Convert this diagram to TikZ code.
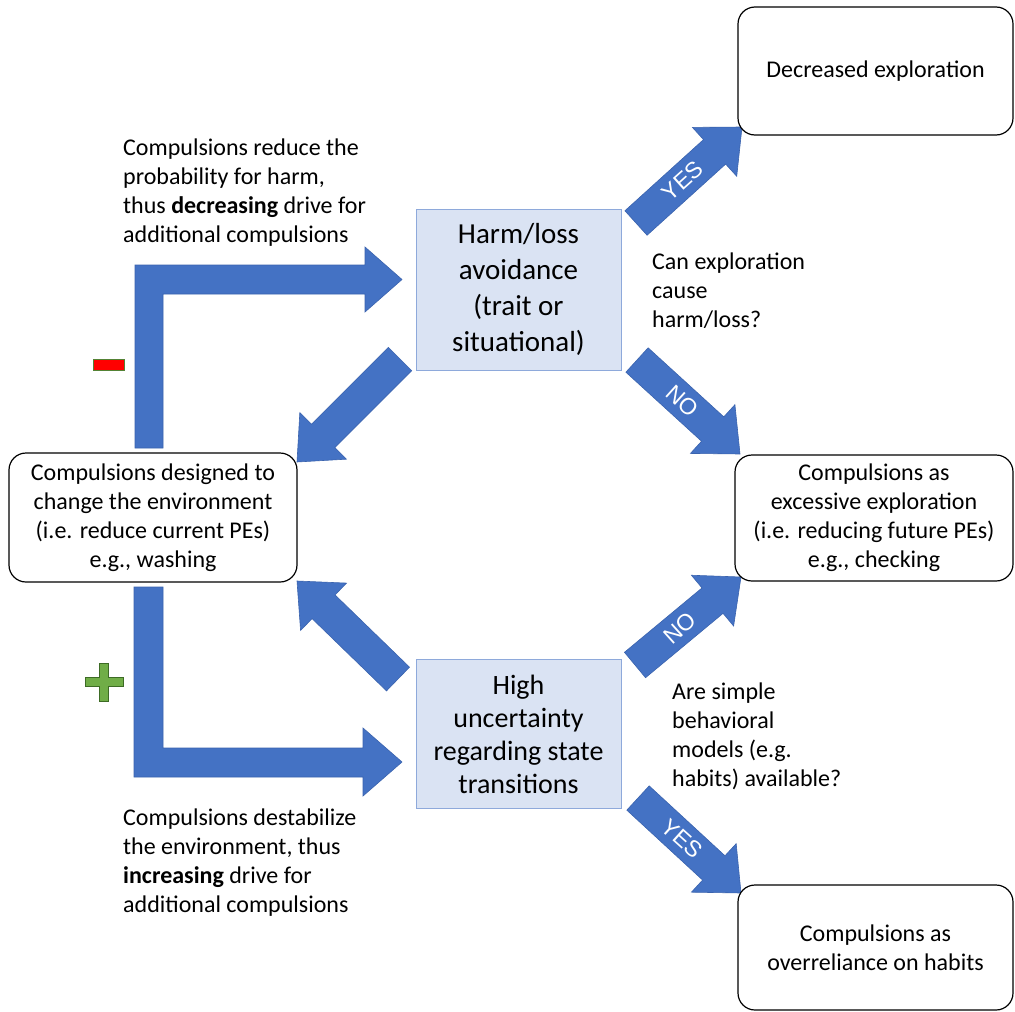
\documentclass[tikz,border=0pt]{standalone}
\usepackage{fontspec}
\setmainfont{Carlito}
\newfontfamily\labelfont{Liberation Sans}
\usetikzlibrary{calc}
\definecolor{arrowblue}{HTML}{4472C4}
\definecolor{arrowedge}{HTML}{3A63AE}
\definecolor{boxfill}{HTML}{DAE3F3}
\definecolor{boxedge}{HTML}{8EA9DB}
\definecolor{minusred}{HTML}{FF0000}
\definecolor{minusedge}{HTML}{548235}
\definecolor{plusgreen}{HTML}{70AD47}
\definecolor{plusedge}{HTML}{3D6B25}
\newcommand{\blockarrow}[2]{%
  \path ($(#2)!37pt!(#1)$) coordinate (hb);
  \filldraw[arrowbody] ($(#1)!16.5pt!90:(#2)$) -- ($(hb)!16.5pt!90:(#2)$) -- ($(hb)!33pt!90:(#2)$) -- (#2)
    -- ($(hb)!33pt!-90:(#2)$) -- ($(hb)!16.5pt!-90:(#2)$) -- ($(#1)!16.5pt!-90:(#2)$) -- cycle;
}
\begin{document}
\begin{tikzpicture}[x=1pt,y=-1pt,
  txt/.style={font=\fontsize{24}{29}\selectfont, inner sep=0pt, text=black},
  roundbox/.style={txt, draw=black, fill=white, line width=1.2pt, rounded corners=17pt, align=center},
  bluebox/.style={draw=boxedge, fill=boxfill, line width=0.9pt, inner sep=0pt, align=center, text=black},
  arrowbody/.style={fill=arrowblue, draw=arrowedge, line width=0.6pt},
  arrowlabel/.style={text=white, font=\labelfont\fontsize{23}{26}\selectfont, inner sep=0pt}]
\useasboundingbox (0,0) rectangle (1015,1012);
\fill[white] (0,0) rectangle (1015,1012);

% L-shaped arrows
\filldraw[arrowbody] (135,448) -- (135,265) -- (365,265) -- (365,247) -- (402,279.5) -- (365,312) -- (365,294) -- (163,294) -- (163,448) -- cycle;
\filldraw[arrowbody] (134,587) -- (134,777) -- (363,777) -- (363,796) -- (402,762) -- (363,728) -- (363,748) -- (163,748) -- (163,587) -- cycle;

% diagonal arrows
\coordinate (a1t) at (400,359); \coordinate (a1h) at (297,462);
\coordinate (a2t) at (398,679); \coordinate (a2h) at (297,581);
\coordinate (a3t) at (636,223); \coordinate (a3h) at (742,127);
\coordinate (a4t) at (637,360); \coordinate (a4h) at (740,454);
\coordinate (a5t) at (635,665); \coordinate (a5h) at (741,577);
\coordinate (a6t) at (638,798); \coordinate (a6h) at (741,893);
\blockarrow{a1t}{a1h}
\blockarrow{a2t}{a2h}
\blockarrow{a3t}{a3h}
\blockarrow{a4t}{a4h}
\blockarrow{a5t}{a5h}
\blockarrow{a6t}{a6h}
\node[arrowlabel, rotate=42] (l3) at ($(a3t)!0.44!(a3h)$) {YES};
\node[arrowlabel, rotate=-42] (l4) at ($(a4t)!0.44!(a4h)$) {NO};
\node[arrowlabel, rotate=42] (l5) at ($(a5t)!0.42!(a5h)$) {NO};
\node[arrowlabel, rotate=-42] (l6) at ($(a6t)!0.43!(a6h)$) {YES};

% boxes
\node[bluebox, minimum width=205pt, minimum height=161pt, font=\fontsize{29}{36}\selectfont] (harm) at (518.5,289.5) {Harm/loss\\avoidance\\(trait or\\situational)};
\node[bluebox, minimum width=205pt, minimum height=149pt, font=\fontsize{28}{33}\selectfont] (high) at (518.5,734) {High\\uncertainty\\regarding state\\transitions};
\node[roundbox, minimum width=275pt, minimum height=128pt] (dec) at (875.5,71) {Decreased exploration};
\node[roundbox, minimum width=288pt, minimum height=129pt] (env) at (153,517.5) {Compulsions designed to\\change the environment\\(i.e. reduce current PEs)\\e.g., washing};
\node[roundbox, minimum width=278pt, minimum height=126pt] (expl) at (874,518) {Compulsions as\\excessive exploration\\(i.e. reducing future PEs)\\e.g., checking};
\node[roundbox, minimum width=275pt, minimum height=125pt] (habit) at (875.5,947.5) {Compulsions as\\overreliance on habits};

% free texts
\node[txt, align=left, anchor=west] (t1) at (123,193) {Compulsions reduce the\\probability for harm,\\thus \textbf{decreasing} drive for\\additional compulsions};
\node[txt, align=left, anchor=west] (t2) at (652,291) {Can exploration\\cause\\harm/loss?};
\node[txt, align=left, anchor=west] (t3) at (672,736.5) {Are simple\\behavioral\\models (e.g.\\habits) available?};
\node[txt, align=left, anchor=west] (t4) at (123,863) {Compulsions destabilize\\the environment, thus\\\textbf{increasing} drive for\\additional compulsions};

% minus and plus signs
\filldraw[fill=minusred, draw=minusedge, line width=0.8pt] (93,359) rectangle (124,370);
\filldraw[fill=plusgreen, draw=plusedge, line width=0.8pt]
  (99.5,663) -- (108.5,663) -- (108.5,677.5) -- (123,677.5) -- (123,686.5) -- (108.5,686.5) -- (108.5,701)
  -- (99.5,701) -- (99.5,686.5) -- (85,686.5) -- (85,677.5) -- (99.5,677.5) -- cycle;
\end{tikzpicture}
\end{document}
